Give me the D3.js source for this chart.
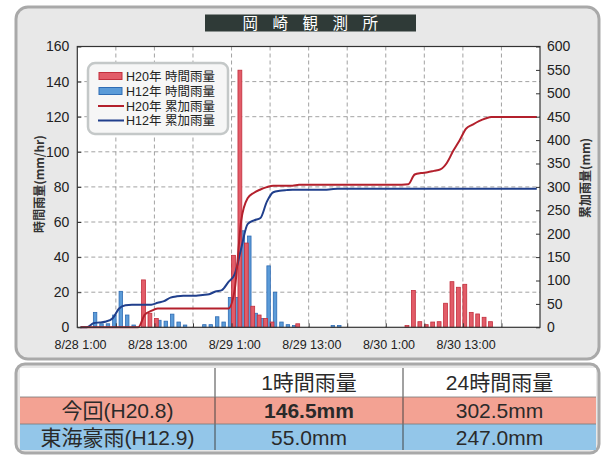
<!DOCTYPE html>
<html><head><meta charset="utf-8">
<script src="https://cdn.jsdelivr.net/npm/d3@7"></script>
<style>
html,body{margin:0;padding:0;background:#fff;}
svg text{font-family:"Liberation Sans",Arial,"Noto Sans CJK JP",sans-serif;}
.jp{font-family:"Noto Sans CJK JP","Liberation Sans",sans-serif;}
</style></head>
<body>
<svg id="c" width="606" height="455"></svg>
<script>
// ---- data ----
const title = "岡 崎 観 測 所";
const hours = d3.range(72); // 0 = 8/28 1:00
const xTickHours = [0, 12, 24, 36, 48, 60];
const xTickLabels = ["8/28 1:00", "8/28 13:00", "8/29 1:00", "8/29 13:00", "8/30 1:00", "8/30 13:00"];
const leftTicks = [0, 20, 40, 60, 80, 100, 120, 140, 160];
const rightTicks = [0, 50, 100, 150, 200, 250, 300, 350, 400, 450, 500, 550, 600];
// hourly rainfall (mm/hr), H20 (2008) event
const h20Hourly = [0,0,0,0,0,0,0,0,0,0, 27,8,5,0,0,0,0,0,0,0, 0,0,0,0,41,146.5,48,12,7,5, 3,0,0,0,2,0,0,0,0,0, 0,0,0,0,0,0,0,0,0,0, 0,1,21,3.2,1.5,3,3.2,13.7,26,22.8, 24.5,8.5,7.6,5.7,3.2,0,0,0,0,0, 0,0];
// hourly rainfall (mm/hr), H12 (2000) Tokai heavy rain
const h12Hourly = [0,0,8.5,2,2,7,20.5,7,1.3,0, 0,0,4,3.5,7.5,3,1.3,0,0,1.5, 1.5,6,3,17,17,55,52,8,5,35, 20,3,1.5,1,0,0,0,0,0,1, 1,0,0,0,0,0,0,0,0,0, 0,0,0,0,0,0,0,0,0,0, 0,0,0,0,0,0,0,0,0,0, 0,0];
const legendLabels = ["H20年 時間雨量", "H12年 時間雨量", "H20年 累加雨量", "H12年 累加雨量"];
const tableHeader = ["", "1時間雨量", "24時間雨量"];
const tableRows = [
  ["今回(H20.8)", "146.5mm", "302.5mm"],
  ["東海豪雨(H12.9)", "55.0mm", "247.0mm"]
];
const h20Cum = Array.from(d3.cumsum(h20Hourly));
const h12Cum = Array.from(d3.cumsum(h12Hourly));

// ---- layout ----
const svg = d3.select("#c");
const L = 77.3, R = 540, T = 46.5, B = 327.3;
const x = d3.scaleLinear().domain([0, 72]).range([L, R]);
const yL = d3.scaleLinear().domain([0, 160]).range([B, T]);
const yR = d3.scaleLinear().domain([0, 600]).range([B, T]);
const RED = "#e25c68", REDS = "#c22f3d", BLUE = "#5b9bd8", BLUES = "#2f6cb4";
const REDLINE = "#b3202c", BLUELINE = "#203f8c";

// panels
svg.append("rect").attr("x", 16).attr("y", 7).attr("width", 583).attr("height", 352)
  .attr("rx", 12).attr("fill", "#e8e8e8").attr("stroke", "#a9a9a9").attr("stroke-width", 3);
svg.append("rect").attr("x", 16).attr("y", 364).attr("width", 583).attr("height", 89)
  .attr("rx", 9).attr("fill", "#e8e8e8").attr("stroke", "#a9a9a9").attr("stroke-width", 3);

// title
svg.append("rect").attr("x", 205).attr("y", 14.5).attr("width", 211).attr("height", 17).attr("fill", "#2f3a37");
svg.append("text").attr("class", "jp").attr("x", 313).attr("y", 28.5).attr("text-anchor", "middle")
  .attr("fill", "#fff").attr("font-size", 15.5).attr("letter-spacing", "5.5px").text(title);

// plot bg
svg.append("rect").attr("x", L).attr("y", T).attr("width", R - L).attr("height", B - T).attr("fill", "#fff");

// grid
const g = svg.append("g");
g.selectAll(".hg").data(leftTicks.slice(1, -1)).join("line")
  .attr("x1", L).attr("x2", R).attr("y1", d => yL(d)).attr("y2", d => yL(d))
  .attr("stroke", "#8a8a8a").attr("stroke-width", 0.8).attr("stroke-dasharray", "4,3");
g.selectAll(".vg").data(d3.range(6, 72, 6)).join("line")
  .attr("x1", d => x(d)).attr("x2", d => x(d)).attr("y1", T).attr("y2", B)
  .attr("stroke", "#8a8a8a").attr("stroke-width", 0.8).attr("stroke-dasharray", "4,3");

// bars
const bw = x(0.6) - x(0);
svg.append("g").selectAll("rect").data(hours.filter(h => h12Hourly[h] > 0)).join("rect")
  .attr("x", h => x(h + 0.5)).attr("width", bw - 0.4)
  .attr("y", h => yL(h12Hourly[h])).attr("height", h => B - yL(h12Hourly[h]))
  .attr("fill", BLUE).attr("stroke", BLUES).attr("stroke-width", 0.8);
svg.append("g").selectAll("rect").data(hours.filter(h => h20Hourly[h] > 0)).join("rect")
  .attr("x", h => x(h)).attr("width", bw)
  .attr("y", h => yL(h20Hourly[h])).attr("height", h => B - yL(h20Hourly[h]))
  .attr("fill", RED).attr("stroke", REDS).attr("stroke-width", 0.8);

// cumulative lines
const line = arr => d3.line().x((d, i) => x(i + 0.5)).y(d => yR(d)).curve(d3.curveMonotoneX)(arr);
svg.append("path").attr("d", line(h12Cum)).attr("fill", "none").attr("stroke", BLUELINE).attr("stroke-width", 2);
svg.append("path").attr("d", line(h20Cum)).attr("fill", "none").attr("stroke", REDLINE).attr("stroke-width", 2);

// frame
svg.append("rect").attr("x", L).attr("y", T).attr("width", R - L).attr("height", B - T)
  .attr("fill", "none").attr("stroke", "#333").attr("stroke-width", 1.2);

// axes
const axL = d3.axisLeft(yL).tickValues(leftTicks).tickSize(-4).tickPadding(8);
const gL = svg.append("g").attr("transform", `translate(${L},0)`).call(axL);
const axR = d3.axisRight(yR).tickValues(rightTicks).tickSize(-4).tickPadding(10);
const gR = svg.append("g").attr("transform", `translate(${R},0)`).call(axR);
const axB = d3.axisBottom(x).tickValues(d3.range(6, 72, 6)).tickSize(-4).tickFormat("");
const gB = svg.append("g").attr("transform", `translate(0,${B})`).call(axB);
[gL, gR, gB].forEach(a => {
  a.select(".domain").remove();
  a.selectAll(".tick line").attr("stroke", "#333");
  a.selectAll("text").attr("font-size", 14).attr("fill", "#222")
    .attr("font-family", '"Liberation Sans",Arial,sans-serif');
});
gR.selectAll("text").attr("x", 7);
svg.append("g").selectAll("text").data(xTickHours).join("text")
  .attr("x", d => x(d + 0.5)).attr("y", 349).attr("text-anchor", "middle")
  .attr("font-size", 12.5).attr("fill", "#222").text((d, i) => xTickLabels[i]);

// axis titles
svg.append("text").attr("class", "jp").attr("transform", "translate(44,184) rotate(-90)")
  .attr("text-anchor", "middle").attr("font-size", 12).attr("font-weight", "bold").attr("fill", "#333")
  .text("時間雨量(mm/hr)");
svg.append("text").attr("class", "jp").attr("transform", "translate(590,178) rotate(-90)")
  .attr("text-anchor", "middle").attr("font-size", 12).attr("font-weight", "bold").attr("fill", "#333")
  .text("累加雨量(mm)");

// legend
const lg = svg.append("g");
lg.append("rect").attr("x", 88).attr("y", 63).attr("width", 140).attr("height", 71).attr("rx", 7)
  .attr("fill", "#f6f6f6").attr("stroke", "#c4c8c8").attr("stroke-width", 2.5);
const ly = [76, 91, 106, 120.5];
lg.append("rect").attr("x", 99).attr("y", ly[0] - 3.5).attr("width", 23).attr("height", 7).attr("fill", RED).attr("stroke", REDS);
lg.append("rect").attr("x", 99).attr("y", ly[1] - 3.5).attr("width", 23).attr("height", 7).attr("fill", BLUE).attr("stroke", BLUES);
lg.append("line").attr("x1", 98).attr("x2", 124).attr("y1", ly[2]).attr("y2", ly[2]).attr("stroke", REDLINE).attr("stroke-width", 2);
lg.append("line").attr("x1", 98).attr("x2", 124).attr("y1", ly[3]).attr("y2", ly[3]).attr("stroke", BLUELINE).attr("stroke-width", 2);
lg.selectAll("text").data(legendLabels).join("text")
  .attr("x", 126).attr("y", (d, i) => ly[i] + 4.5).attr("font-size", 12.5).attr("fill", "#222").text(d => d);

// table
const colX = [20, 215, 403, 596];
const rowY = [368, 397, 424, 450];
const rowFill = ["#ffffff", "#f3a293", "#93c6e9"];
const tg = svg.append("g");
[tableHeader, ...tableRows].forEach((row, r) => {
  tg.append("rect").attr("x", colX[0]).attr("y", rowY[r]).attr("width", colX[3] - colX[0])
    .attr("height", rowY[r + 1] - rowY[r]).attr("fill", rowFill[r]);
  row.forEach((t, c) => {
    tg.append("text").attr("x", (colX[c] + colX[c + 1]) / 2)
      .attr("y", (rowY[r] + rowY[r + 1]) / 2 + 7.5).attr("text-anchor", "middle")
      .attr("font-size", 21).attr("fill", "#2a2a2a")
      .attr("font-weight", (r === 1 && c === 1) ? "bold" : "normal").text(t);
  });
});
tg.selectAll(".cs").data([colX[1], colX[2]]).join("line")
  .attr("x1", d => d).attr("x2", d => d).attr("y1", rowY[0]).attr("y2", rowY[3])
  .attr("stroke", "#444").attr("stroke-width", 1);
tg.selectAll(".rs").data([rowY[1], rowY[2]]).join("line")
  .attr("x1", colX[0]).attr("x2", colX[3]).attr("y1", d => d).attr("y2", d => d)
  .attr("stroke", "#777").attr("stroke-width", 0.8);
</script>
</body></html>
